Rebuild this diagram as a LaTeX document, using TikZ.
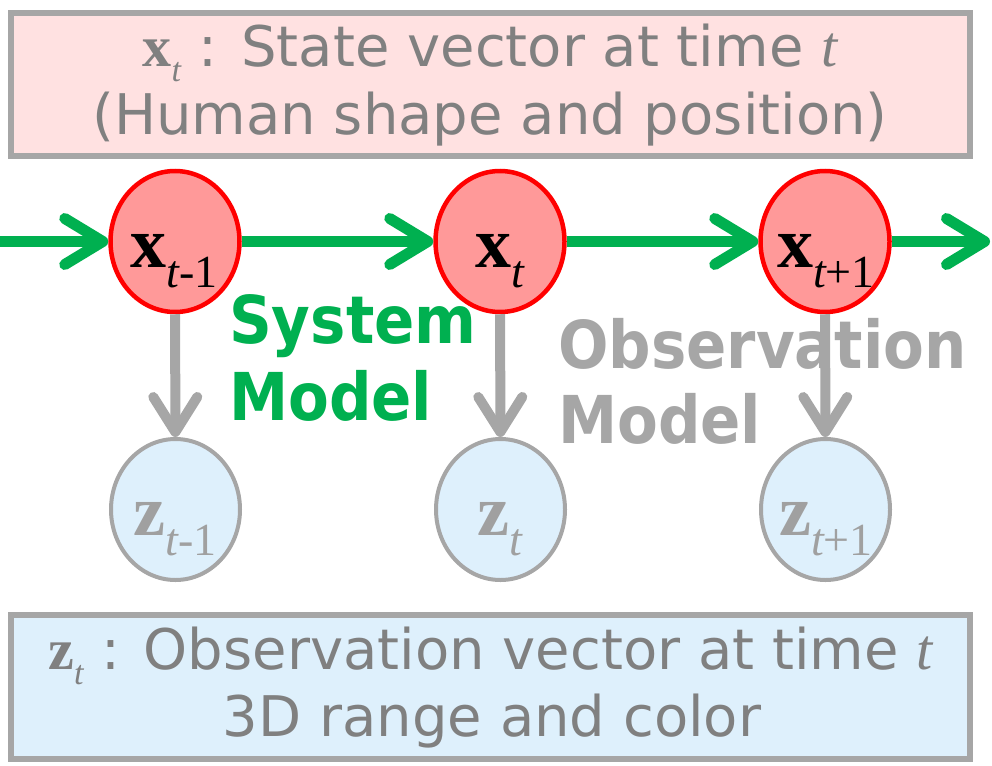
\documentclass[tikz,border=0pt]{standalone}
\usepackage{fontspec}
\usetikzlibrary{arrows.meta,shapes.geometric}
\newfontfamily\boxfont[FakeStretch=1.0]{DejaVu Sans}
\newfontfamily\modelfont[FakeStretch=0.9]{DejaVu Sans Bold}
\newfontfamily\tserif{Liberation Serif}
\definecolor{ggreen}{HTML}{00B050}
\definecolor{agray}{HTML}{A6A6A6}
\definecolor{tgray}{HTML}{808080}
\definecolor{zgray}{HTML}{A0A0A0}
\definecolor{pinkbox}{HTML}{FFE1E1}
\definecolor{bluebox}{HTML}{DEF0FC}
\definecolor{xfill}{HTML}{FF9999}
\newcommand\bigvar[1]{{\tserif\bfseries\fontsize{72}{72}\selectfont #1}}
\newcommand\bigsub[1]{\raisebox{-20pt}{\tserif\fontsize{46}{46}\selectfont #1}}
\newcommand\boxvar[1]{{\tserif\bfseries\fontsize{58}{58}\selectfont #1}\raisebox{-15pt}{\tserif\itshape\fontsize{34}{34}\selectfont t}}
\begin{document}
\begin{tikzpicture}[x=1pt,y=-1pt,
  infobox/.style={draw=agray, line width=6pt, inner sep=0pt},
  xnode/.style={ellipse, draw=red, line width=4.5pt, fill=xfill, minimum width=129pt, minimum height=141pt, inner sep=0pt},
  znode/.style={ellipse, draw=agray, line width=4pt, fill=bluebox, minimum width=129pt, minimum height=141pt, inner sep=0pt},
  boxtext/.style={anchor=base, inner sep=0pt, text=tgray, font=\boxfont\fontsize{56}{56}\selectfont},
  modeltext/.style={anchor=base west, inner sep=0pt, font=\modelfont\fontsize{66}{66}\selectfont},
  garrow/.style={draw=ggreen, line width=11pt, -{Straight Barb[length=38pt, width=46pt, round]}},
  oarrow/.style={draw=agray, line width=10pt, -{Straight Barb[length=35pt, width=44pt, round]}},
  lbl/.style={anchor=base, inner sep=0pt}
]
\useasboundingbox (0,0) rectangle (992,765);
% boxes
\node[infobox, fill=pinkbox, minimum width=959pt, minimum height=143pt] (topbox) at (490.5,84.5) {};
\node[infobox, fill=bluebox, minimum width=959pt, minimum height=144pt] (botbox) at (490.5,687) {};
\node[boxtext] (t1) at (490,67) {\boxvar{x} : State vector at time {\tserif\itshape\fontsize{58}{58}\selectfont t}};
\node[boxtext] (t2) at (490,134) {(Human shape and position)};
\node[boxtext] (b1) at (490.5,669) {\boxvar{z} : Observation vector at time {\tserif\itshape\fontsize{58}{58}\selectfont t}};
\node[boxtext] (b2) at (492,736) {3D range and color};
% state nodes
\node[xnode] (x1) at (175,241.5) {};
\node[xnode] (x2) at (500,241.5) {};
\node[xnode] (x3) at (825,241.5) {};
\node[lbl] (x1l) at (174,267) {\bigvar{x}\bigsub{\itshape t\upshape-1}};
\node[lbl] (x2l) at (500,267) {\bigvar{x}\bigsub{\itshape t}};
\node[lbl] (x3l) at (826,267) {\bigvar{x}\bigsub{\itshape t\upshape+1}};
% observation nodes
\node[znode] (z1) at (175.5,509.5) {};
\node[znode] (z2) at (500.5,509.5) {};
\node[znode] (z3) at (825.5,509.5) {};
\node[lbl, text=zgray] (z1l) at (175,535) {\bigvar{z}\bigsub{\itshape t\upshape-1}};
\node[lbl, text=zgray] (z2l) at (500,535) {\bigvar{z}\bigsub{\itshape t}};
\node[lbl, text=zgray] (z3l) at (826,535) {\bigvar{z}\bigsub{\itshape t\upshape+1}};
% model labels
\node[modeltext, text=ggreen] (sm1) at (229,343) {System};
\node[modeltext, text=ggreen] (sm2) at (229,420) {Model};
\node[modeltext, text=agray] (om1) at (558,368) {Observation};
\node[modeltext, text=agray] (om2) at (558,443) {Model};
% connectors
\coordinate (lin) at (0,241.5);
\coordinate (rout) at (990,241.5);
\draw[garrow] (lin) -- (x1);
\draw[garrow] (x1) -- (x2);
\draw[garrow] (x2) -- (x3);
\draw[garrow] (x3) -- (rout);
\draw[oarrow] (x1) -- (z1);
\draw[oarrow] (x2) -- (z2);
\draw[oarrow] (x3) -- (z3);
\end{tikzpicture}
\end{document}
